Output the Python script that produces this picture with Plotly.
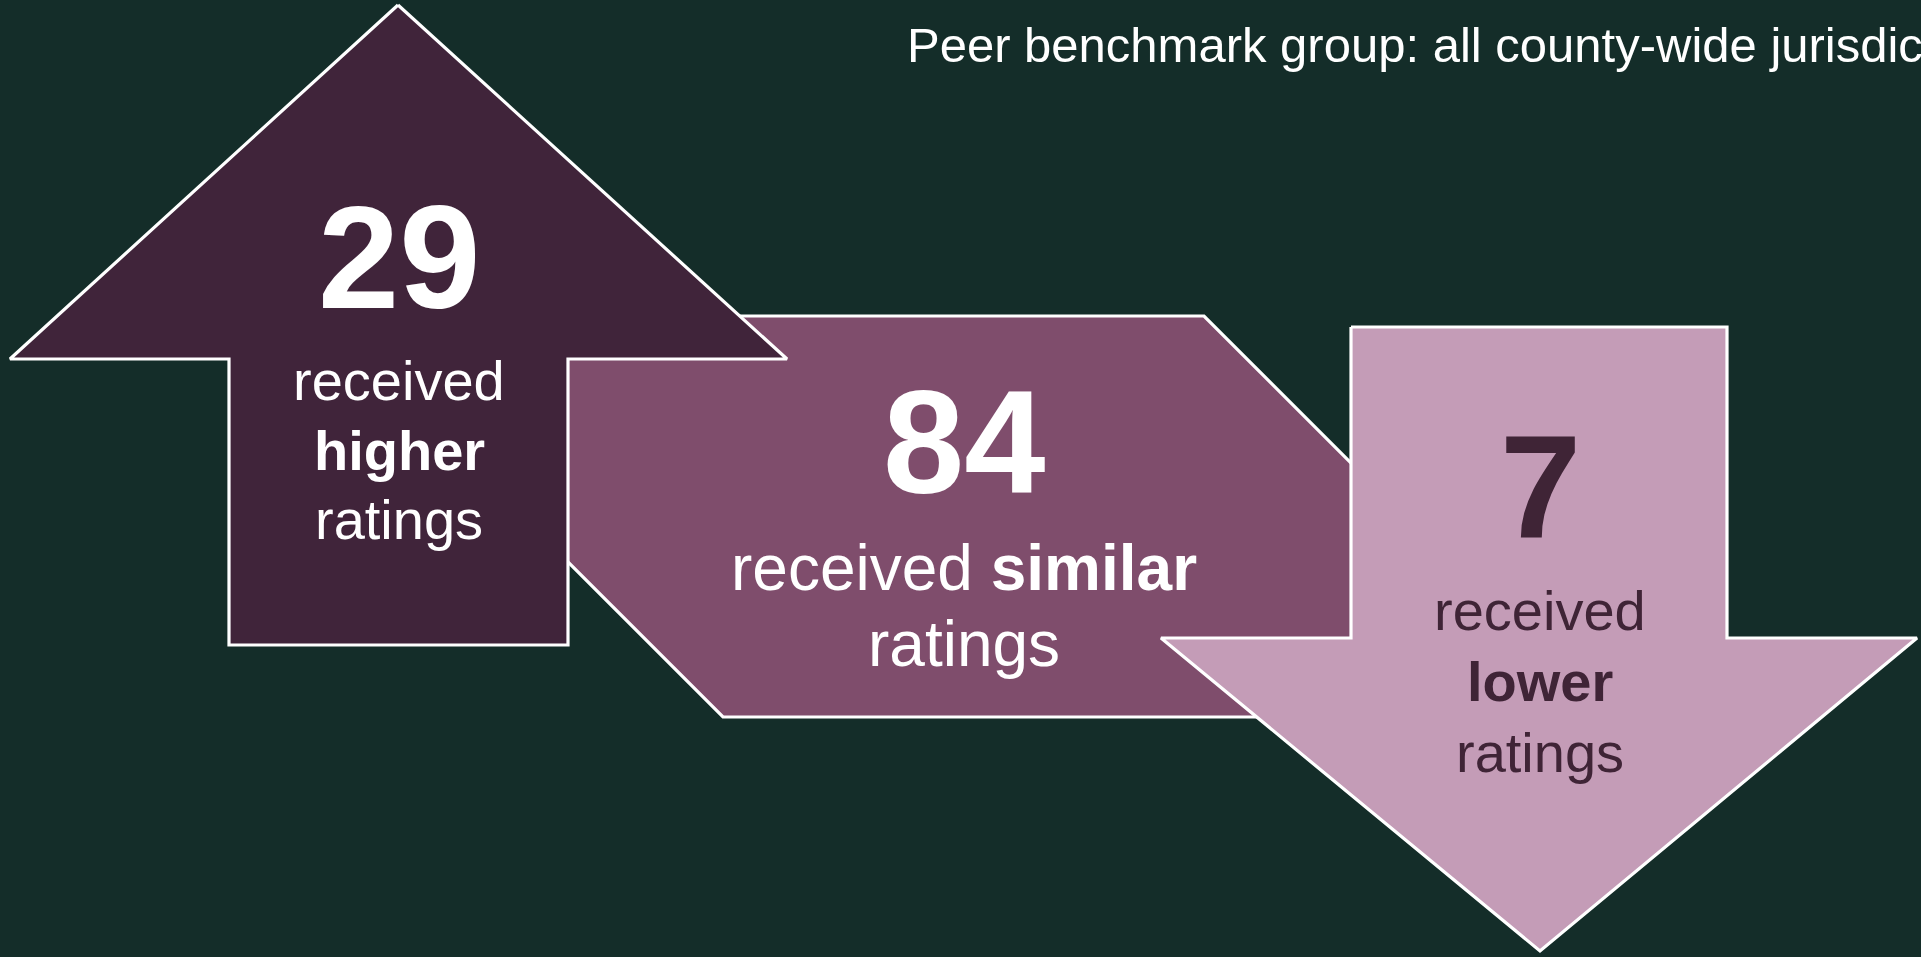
import plotly.graph_objects as go

# ---- data ----
categories = ["higher", "similar", "lower"]
counts = [29, 84, 7]
title_text = "Peer benchmark group: all county-wide jurisdictions"

# ---- styles / geometry (pixel space, y downward) ----
W, H = 1921, 957
BG = "#142d29"
FILL = {"higher": "#40243a", "similar": "#7f4d6c", "lower": "#c49cb7"}
TXT = {"higher": "#ffffff", "similar": "#ffffff", "lower": "#3f2436"}
FONT = "Arial, 'Liberation Sans', Arimo, sans-serif"

up_x = [398, 787, 568, 568, 229, 229, 10, 398]
up_y = [5, 359, 359, 645, 645, 359, 359, 5]
mid_x = [322, 1204, 1605, 723, 322]
mid_y = [316, 316, 717, 717, 316]
dn_x = [1351, 1727, 1727, 1917, 1540, 1161, 1351, 1351]
dn_y = [327, 327, 638, 638, 951, 638, 638, 327]

fig = go.Figure()
for name, xs, ys in [("similar", mid_x, mid_y), ("higher", up_x, up_y), ("lower", dn_x, dn_y)]:
    fig.add_trace(go.Scatter(
        x=xs, y=ys, mode="lines", fill="toself",
        fillcolor=FILL[name], line=dict(color="white", width=3.2),
        hoverinfo="skip", showlegend=False))

NUM_SIZE = 146
SMALL = 56
MID = 64

def ann(x, y, text, size, color, anchor="center"):
    fig.add_annotation(x=x, y=y, text=text, showarrow=False,
                       xanchor=anchor, yanchor="middle",
                       font=dict(family=FONT, size=size, color=color))

# higher
ann(399, 257, f"<b>{counts[0]}</b>", NUM_SIZE, TXT["higher"])
ann(399, 380, "received", SMALL, TXT["higher"])
ann(399, 450, f"<b>{categories[0]}</b>", SMALL, TXT["higher"])
ann(399, 519, "ratings", SMALL, TXT["higher"])
# similar
ann(964, 442, f"<b>{counts[1]}</b>", NUM_SIZE, TXT["similar"])
ann(964, 568, f"received <b>{categories[1]}</b>", MID, TXT["similar"])
ann(964, 644, "ratings", MID, TXT["similar"])
# lower
ann(1540, 486, f"<b>{counts[2]}</b>", NUM_SIZE, TXT["lower"])
ann(1540, 610, "received", SMALL, TXT["lower"])
ann(1540, 681, f"<b>{categories[2]}</b>", SMALL, TXT["lower"])
ann(1540, 752, "ratings", SMALL, TXT["lower"])
# title (runs off the right edge, as in the reference)
ann(905, 45, title_text, 49, "#ffffff", anchor="left")

fig.update_layout(
    width=W, height=H, margin=dict(l=0, r=0, t=0, b=0),
    paper_bgcolor=BG, plot_bgcolor=BG,
    xaxis=dict(range=[0, W], visible=False, fixedrange=True),
    yaxis=dict(range=[H, 0], visible=False, fixedrange=True),
    showlegend=False,
)

fig.write_html("out.html", config={"displayModeBar": False},
               post_script="document.body.style.margin='0';document.body.style.overflow='hidden';")
